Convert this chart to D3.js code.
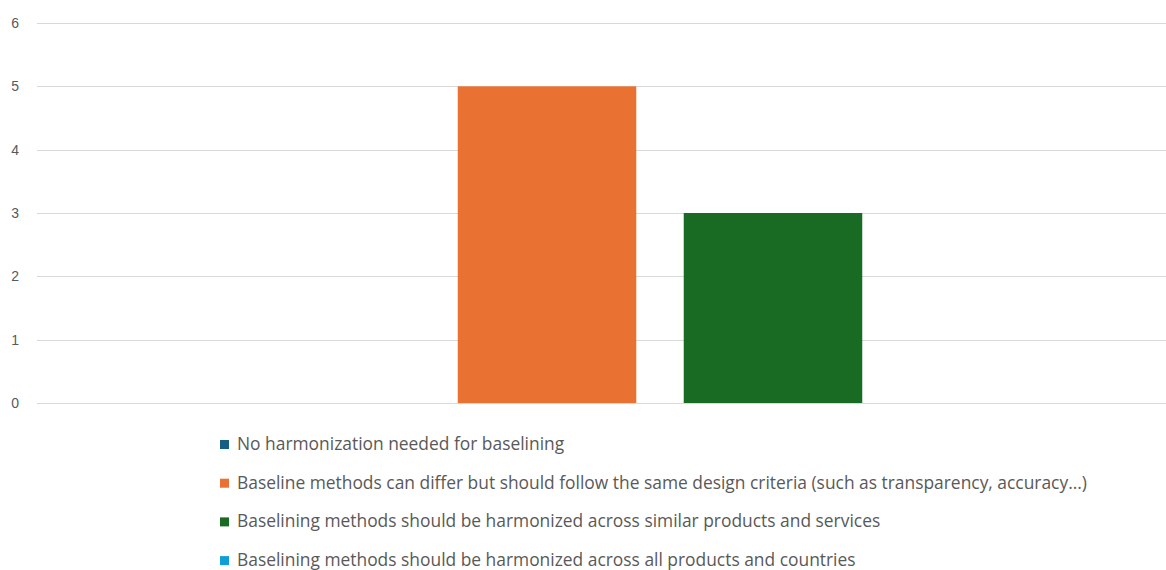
<!DOCTYPE html>
<html>
<head>
<meta charset="utf-8">
<script src="https://cdn.jsdelivr.net/npm/d3@7"></script>
<style>
  html, body { margin: 0; padding: 0; background: #fff; }
  svg { display: block; }
</style>
</head>
<body>
<svg id="chart" width="1166" height="570"></svg>
<script>
// Survey answers on how baselining methods should be harmonized
const categories = [""];
const seriesNames = [
  "No harmonization needed for baselining",
  "Baseline methods can differ but should follow the same design criteria (such as transparency, accuracy...)",
  "Baselining methods should be harmonized across similar products and services",
  "Baselining methods should be harmonized across all products and countries"
];
const seriesValues = [0, 5, 3, 0];
const seriesColors = ["#156082", "#E97132", "#196B24", "#0F9ED5"];
const yTicks = [0, 1, 2, 3, 4, 5, 6];

const svg = d3.select("#chart");

const plot = { left: 37, right: 1283, top: 23, bottom: 403 };

const y = d3.scaleLinear().domain([0, 6]).range([plot.bottom, plot.top]);

const x0 = d3.scaleBand()
  .domain(categories)
  .range([plot.left, plot.right])
  .paddingInner(0)
  .paddingOuter(0.2274);

const x1 = d3.scaleBand()
  .domain(seriesNames)
  .range([0, x0.bandwidth()])
  .paddingInner(0.21)
  .paddingOuter(0);

// horizontal gridlines
svg.append("g")
  .selectAll("line")
  .data(yTicks)
  .join("line")
  .attr("x1", plot.left)
  .attr("x2", plot.right)
  .attr("y1", d => Math.round(y(d)) + 0.5)
  .attr("y2", d => Math.round(y(d)) + 0.5)
  .attr("stroke", "#d9d9d9")
  .attr("stroke-width", 1);

// y axis labels
const yAxis = d3.axisLeft(y).tickValues(yTicks).tickFormat(d3.format("d")).tickSize(0).tickPadding(0);
const gy = svg.append("g")
  .attr("transform", `translate(${19},0)`)
  .attr("font-size", 14)
  .attr("font-family", "'Liberation Sans', Arial, sans-serif")
  .call(yAxis);
gy.select(".domain").remove();
gy.selectAll("text")
  .attr("fill", "#595959")
  .style("font-family", "'Liberation Sans', Arial, sans-serif")
  .style("font-size", "14px");

// bars
const rows = seriesNames.map((name, i) => ({ name, value: seriesValues[i], color: seriesColors[i] }));
svg.append("g")
  .selectAll("g")
  .data(categories)
  .join("g")
  .attr("transform", d => `translate(${x0(d)},0)`)
  .selectAll("rect")
  .data(() => rows)
  .join("rect")
  .attr("x", d => x1(d.name))
  .attr("y", d => y(d.value))
  .attr("width", x1.bandwidth())
  .attr("height", d => y(0) - y(d.value))
  .attr("fill", d => d.color);

// legend
const legend = svg.append("g").attr("transform", "translate(220,444)");
const item = legend.selectAll("g")
  .data(rows)
  .join("g")
  .attr("transform", (d, i) => `translate(0,${i * 38.7})`);
item.append("rect")
  .attr("x", 0)
  .attr("y", -4)
  .attr("width", 9)
  .attr("height", 9)
  .attr("fill", d => d.color);
item.append("text")
  .attr("x", 17)
  .attr("y", 0)
  .attr("dy", "0.35em")
  .attr("fill", "#595959")
  .style("font-family", "'Open Sans', sans-serif")
  .style("font-size", "17.4px")
  .text(d => d.name);
</script>
</body>
</html>
